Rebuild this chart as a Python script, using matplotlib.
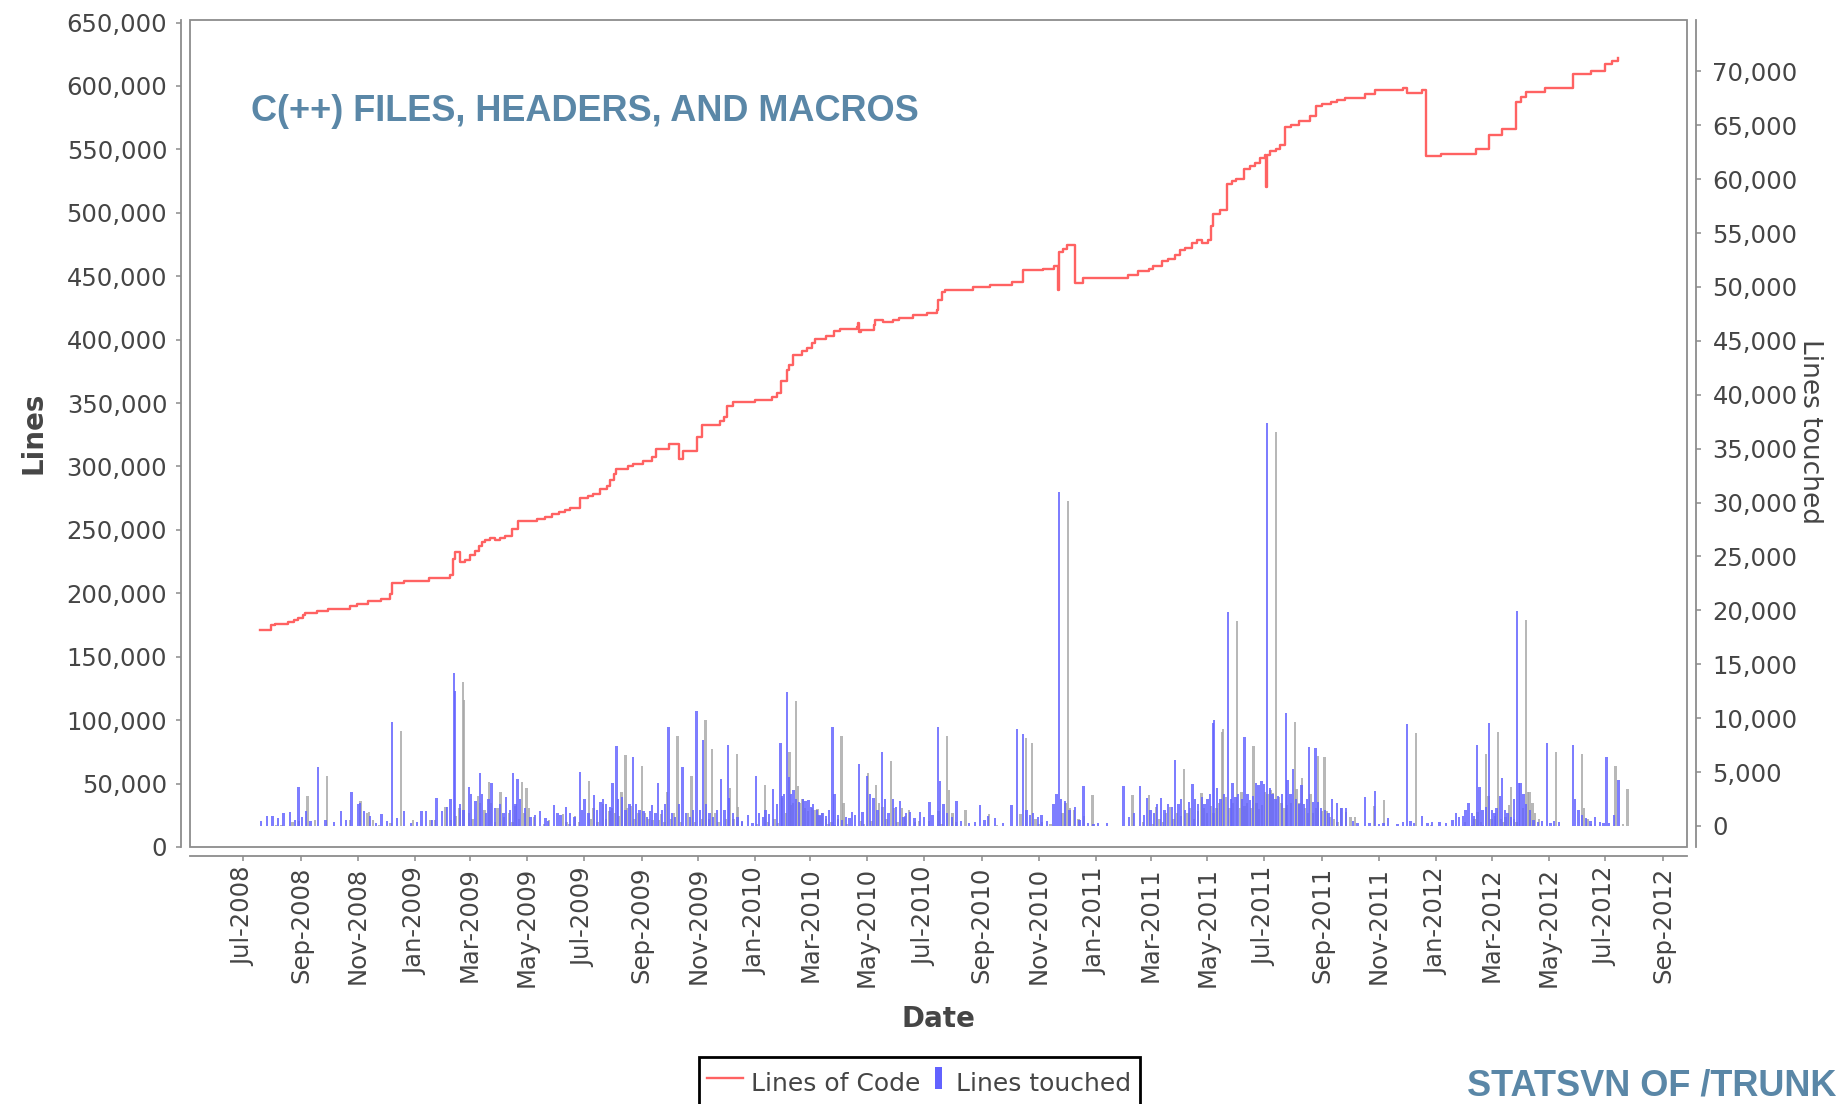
import numpy as np
import matplotlib
matplotlib.use('Agg')
from matplotlib import pyplot as plt
from matplotlib import dates as mdates
from matplotlib import transforms
from matplotlib.lines import Line2D
from matplotlib.patches import Rectangle
from matplotlib.path import Path
from matplotlib.ticker import FuncFormatter, MultipleLocator

start_date = '2008-07-01'
title = 'C(++) FILES, HEADERS, AND MACROS'
footer = 'STATSVN OF /TRUNK'

# lines of code: days after start_date, value (step changes)
loc_days = [18, 30, 34, 48, 54, 59, 64, 66, 79, 91,
            114, 122, 134, 148, 157, 159, 172, 199, 222, 225,
            227, 232, 238, 243, 248, 253, 256, 259, 265, 270,
            275, 281, 288, 295, 315, 324, 331, 338, 345, 350,
            361, 370, 375, 383, 390, 393, 397, 400, 413, 418,
            429, 438, 443, 456, 467, 471, 487, 492, 511, 515,
            519, 525, 549, 567, 572, 577, 583, 585, 590, 599,
            604, 610, 613, 625, 633, 640, 658, 659, 660, 662,
            676, 678, 686, 697, 703, 718, 733, 744, 745, 749,
            753, 783, 801, 824, 836, 858, 869, 874, 875, 879,
            883, 892, 901, 949, 960, 971, 976, 985, 992, 999,
            1005, 1010, 1017, 1023, 1028, 1035, 1038, 1040, 1048, 1055,
            1060, 1065, 1073, 1080, 1085, 1090, 1096, 1097, 1098, 1101,
            1108, 1112, 1117, 1124, 1132, 1144, 1151, 1157, 1167, 1173,
            1182, 1203, 1214, 1244, 1248, 1264, 1269, 1285, 1322, 1336,
            1350, 1365, 1370, 1376, 1396, 1426, 1446, 1461, 1468, 1474]
loc_lines = [171300, 174700, 175500, 177300, 179200, 180800, 182600, 184400, 186000, 187900,
             189700, 191800, 193600, 195400, 199100, 208400, 210000, 212000, 214100, 227300,
             232500, 224600, 226500, 229900, 233100, 237000, 240400, 242300, 243900, 241700,
             243900, 245400, 250900, 256900, 258500, 260100, 262200, 264000, 265400, 267200,
             275100, 276400, 278500, 281900, 284300, 289000, 294300, 298300, 300100, 302200,
             304200, 307400, 313700, 317400, 306100, 311900, 323200, 332400, 335800, 338900,
             347400, 350800, 352700, 354700, 357900, 367300, 376300, 380200, 387600, 391000,
             393700, 397300, 400700, 402800, 406500, 408100, 409900, 413000, 406000, 407300,
             411200, 415200, 413600, 415700, 417300, 419100, 420900, 423100, 430900, 437500,
             439400, 441400, 443000, 445400, 454600, 455900, 458000, 438800, 469000, 471100,
             474800, 444600, 448500, 450700, 454000, 455900, 458000, 461700, 463800, 467000,
             470900, 472500, 476100, 478200, 476400, 478200, 489500, 498700, 502400, 523000,
             525000, 526900, 534200, 536600, 539200, 543400, 545800, 520300, 545800, 548600,
             550500, 553100, 567600, 568900, 572300, 576000, 583900, 586000, 587300, 589200,
             590700, 593400, 597000, 598600, 594700, 596500, 544700, 546600, 550500, 561600,
             566300, 587300, 591200, 595200, 598600, 609700, 611700, 617500, 619600, 622300]

# lines touched: days after start_date, value
touched_days = [19, 25, 31, 37, 43, 50, 55, 59, 63, 67,
                72, 80, 88, 97, 105, 110, 116, 123, 125, 129,
                136, 142, 148, 154, 159, 165, 172, 180, 186, 191,
                196, 202, 207, 213, 218, 222, 226, 227, 232, 236,
                242, 244, 249, 254, 256, 260, 263, 266, 270, 275,
                279, 282, 286, 289, 292, 294, 297, 302, 308, 313,
                318, 324, 327, 333, 337, 340, 346, 350, 355, 361,
                363, 366, 370, 376, 379, 383, 386, 389, 393, 396,
                400, 402, 406, 410, 414, 418, 421, 425, 429, 433,
                436, 438, 442, 445, 449, 452, 456, 460, 463, 467,
                471, 475, 479, 482, 486, 490, 493, 496, 500, 504,
                508, 512, 516, 520, 521, 525, 530, 535, 541, 546,
                550, 553, 557, 560, 564, 568, 572, 576, 578, 580,
                583, 585, 587, 590, 593, 596, 600, 603, 606, 609,
                611, 615, 618, 621, 625, 628, 632, 634, 638, 642,
                646, 650, 653, 656, 660, 664, 669, 672, 676, 680,
                685, 688, 692, 697, 700, 704, 708, 711, 715, 720,
                726, 730, 736, 739, 745, 747, 751, 755, 760, 765,
                770, 778, 785, 790, 795, 799, 806, 815, 824, 830,
                836, 840, 844, 847, 852, 856, 862, 869, 872, 875,
                877, 881, 886, 892, 897, 901, 906, 912, 917, 926,
                944, 950, 955, 962, 966, 969, 973, 977, 980, 984,
                988, 992, 996, 999, 1003, 1006, 1010, 1014, 1018, 1021,
                1024, 1028, 1031, 1034, 1037, 1040, 1041, 1044, 1048, 1052,
                1056, 1059, 1061, 1064, 1067, 1071, 1074, 1077, 1080, 1083,
                1086, 1089, 1092, 1095, 1098, 1101, 1104, 1107, 1110, 1114,
                1118, 1120, 1123, 1126, 1129, 1132, 1135, 1138, 1141, 1143,
                1147, 1150, 1153, 1156, 1160, 1164, 1168, 1173, 1178, 1183,
                1190, 1195, 1203, 1208, 1214, 1218, 1223, 1228, 1238, 1244,
                1248, 1252, 1256, 1264, 1270, 1275, 1283, 1290, 1297, 1301,
                1304, 1308, 1311, 1314, 1318, 1320, 1323, 1326, 1329, 1333,
                1336, 1339, 1342, 1344, 1348, 1350, 1353, 1356, 1360, 1363,
                1366, 1368, 1370, 1373, 1376, 1380, 1384, 1389, 1393, 1398,
                1402, 1406, 1411, 1426, 1428, 1432, 1436, 1440, 1445, 1450,
                1455, 1459, 1462, 1465, 1470, 1475]
touched_lines = [500, 900, 930, 700, 1180, 1300, 600, 3650, 800, 1400,
                 500, 5500, 600, 400, 1400, 600, 3130, 2000, 2150, 1400,
                 900, 300, 1100, 500, 9620, 700, 1400, 300, 400, 1400,
                 1400, 600, 2570, 1400, 1800, 2500, 14230, 12500, 2000, 1500,
                 3650, 3000, 2300, 4890, 3000, 1200, 2500, 3960, 1700, 2000,
                 1200, 2720, 1500, 4890, 2000, 4330, 2500, 1700, 800, 1000,
                 1400, 700, 500, 1900, 1200, 1000, 1800, 1200, 800, 5040,
                 1500, 2500, 1200, 2860, 1500, 2200, 2500, 2000, 1800, 3960,
                 7450, 2500, 2700, 1500, 2000, 6430, 2000, 1500, 1400, 800,
                 1400, 1950, 1200, 3960, 1500, 2000, 9210, 1200, 800, 2000,
                 5500, 1200, 800, 1500, 10700, 1500, 7980, 2000, 1200, 800,
                 1500, 4390, 1500, 7510, 2600, 1200, 800, 500, 1000, 300,
                 4670, 1200, 800, 1500, 1100, 3400, 2000, 7670, 2800, 3000,
                 12460, 4500, 3000, 3330, 2500, 2200, 2500, 2300, 2400, 1800,
                 2000, 1500, 1000, 1200, 900, 1500, 9160, 3000, 1000, 600,
                 800, 700, 1300, 1000, 5720, 1300, 4670, 3000, 2600, 1500,
                 6840, 2500, 1200, 2500, 1800, 2300, 800, 1200, 1300, 700,
                 1300, 800, 2200, 1000, 9160, 4150, 2000, 1200, 800, 2300,
                 500, 300, 400, 1900, 600, 900, 700, 300, 1900, 9020,
                 8540, 1500, 1000, 1200, 800, 1000, 500, 2000, 3000, 31000,
                 2500, 2300, 1500, 1800, 600, 3710, 300, 200, 300, 300,
                 3710, 800, 1200, 3710, 1000, 2640, 1500, 1200, 2000, 2640,
                 1500, 2000, 1800, 6090, 2000, 2500, 1500, 2200, 3880, 2500,
                 2000, 2700, 2000, 2500, 3000, 9580, 9800, 3500, 2500, 3000,
                 19830, 2500, 4000, 2700, 3000, 2500, 8280, 3000, 2400, 2800,
                 3960, 3800, 4200, 3900, 37350, 3500, 3000, 2500, 2800, 3000,
                 10460, 4300, 3000, 5300, 2500, 2000, 3800, 2000, 2500, 7360,
                 2200, 7200, 2200, 1700, 1500, 1200, 2500, 2100, 1700, 1700,
                 500, 300, 2720, 300, 3280, 200, 300, 700, 200, 400,
                 9440, 500, 300, 900, 300, 400, 400, 300, 600, 1200,
                 800, 900, 1500, 2160, 1200, 900, 7520, 3600, 1500, 1800,
                 9530, 1500, 1200, 1700, 2800, 4480, 1500, 1200, 800, 2500,
                 19950, 4000, 3960, 3000, 2000, 1500, 600, 400, 500, 7670,
                 300, 500, 400, 7520, 2500, 1500, 1000, 700, 500, 800,
                 400, 300, 6430, 300, 1000, 4270]

red = '#ff6262'
blue = '#6262ff'
shadow_grey = '#a6a6a6'
axis_grey = '#8c8c8c'
text_grey = '#454545'
banner = '#5a87a7'

fig = plt.figure(figsize=(18.36, 11.04), dpi=100)
ax = fig.add_axes([0.1035, 0.2328, 0.8153, 0.7491])
ax2 = ax.twinx()

base = mdates.date2num(np.datetime64(start_date))
x_loc = base + np.array(loc_days)
x_touch = base + np.array(touched_days)
x_lo, x_hi = base - 57.3, base + 1548.4

ax.plot(x_loc, loc_lines, drawstyle='steps-post', color=red, lw=1.7, zorder=3)

# JFreeChart-like bar shadows: same bars shifted right/down, clipped at baseline
shift = transforms.ScaledTranslation(9 / 100, -9 / 100, fig.dpi_scale_trans)
clip = Rectangle((x_lo, 0), x_hi - x_lo, 100000, transform=ax2.transData)
shadows = ax2.bar(x_touch, touched_lines, width=2.5, color=shadow_grey, alpha=0.8,
                  linewidth=0, zorder=1)
for p in shadows:
    p.set_transform(ax2.transData + shift)
    p.set_clip_path(clip)
ax2.bar(x_touch, touched_lines, width=2.5, color=blue, alpha=0.82, linewidth=0, zorder=2)

ax.set_xlim(x_lo, x_hi)
ax.set_ylim(0, 652000)
ax2.set_ylim(-1950, 74770)

ax.xaxis.set_major_locator(mdates.MonthLocator(bymonth=[1, 3, 5, 7, 9, 11]))
ax.xaxis.set_major_formatter(mdates.DateFormatter('%b-%Y'))
thousands = FuncFormatter(lambda v, p: f'{v:,.0f}')
ax.yaxis.set_major_locator(MultipleLocator(50000))
ax.yaxis.set_major_formatter(thousands)
ax2.yaxis.set_major_locator(MultipleLocator(5000))
ax2.yaxis.set_major_formatter(thousands)

for a in (ax, ax2):
    for s in a.spines.values():
        s.set_visible(False)
for a, side in ((ax, 'left'), (ax, 'bottom'), (ax2, 'right')):
    sp = a.spines[side]
    sp.set_visible(True)
    sp.set_position(('outward', 6.8))
    sp.set_color(axis_grey)
    sp.set_linewidth(1.3)

ax2.add_patch(Rectangle((0, 0), 1, 1, transform=ax2.transAxes, fill=False,
                        edgecolor=axis_grey, lw=1.3, clip_on=False, zorder=5))

tick_kw = dict(direction='out', length=3.6, width=1.1, color=axis_grey,
               labelsize=17.5, labelcolor=text_grey)
ax.tick_params(axis='y', pad=6, **tick_kw)
ax.tick_params(axis='x', pad=4, labelrotation=90, **tick_kw)
ax2.tick_params(axis='y', pad=8, **tick_kw)

ax.set_xlabel('Date', fontsize=20, fontweight='bold', color=text_grey)
ax.xaxis.set_label_coords(0.5, -0.191)
ax.set_ylabel('Lines', fontsize=20, fontweight='bold', color=text_grey)
ax.yaxis.set_label_coords(-0.0955, 0.5006)
ax2.set_ylabel('Lines touched', fontsize=19, color=text_grey, rotation=270, va='bottom')
ax2.yaxis.set_label_coords(1.0735, 0.503)

# narrow bar glyph sitting right of the handle centre
bar_mark = Path([(0.39, -1), (1.0, -1), (1.0, 1), (0.39, 1), (0.39, -1)],
                [Path.MOVETO, Path.LINETO, Path.LINETO, Path.LINETO, Path.CLOSEPOLY])
handles = [Line2D([], [], color=red, lw=1.7),
           Line2D([], [], ls='none', marker=bar_mark, markersize=16.5, color=blue,
                  markeredgewidth=0)]
leg = fig.legend(handles, ['Lines of Code', 'Lines touched'], loc='upper left',
                 bbox_to_anchor=(698.5 / 1836, 1 - 1057 / 1104), ncol=2, fontsize=18,
                 frameon=True, fancybox=False, edgecolor='black', framealpha=1,
                 borderaxespad=0, borderpad=0.35, handlelength=1.44, handleheight=1.7,
                 handletextpad=0.3, columnspacing=-0.29)
leg.get_frame().set_linewidth(2)
for t in leg.get_texts():
    t.set_color(text_grey)

fam = ['Noto Sans Condensed', 'DejaVu Sans Condensed', 'Liberation Sans Narrow',
       'Liberation Sans']
head = fig.text(251 / 1836, 1 - 121 / 1104, title, fontsize=30, fontweight='bold',
                color=banner, family=fam, ha='left', va='baseline')
foot = fig.text(1.0, 1 - 1095 / 1104, footer, fontsize=30, fontweight='bold',
                color=banner, family=fam, ha='right', va='baseline')

# size the banner texts to the widths they take in the original
renderer = fig.canvas.get_renderer()
for txt, width_px in ((head, 668), (foot, 369)):
    w = txt.get_window_extent(renderer).width
    txt.set_fontsize(txt.get_fontsize() * width_px / w)

fig.savefig('out.png', dpi=100)
